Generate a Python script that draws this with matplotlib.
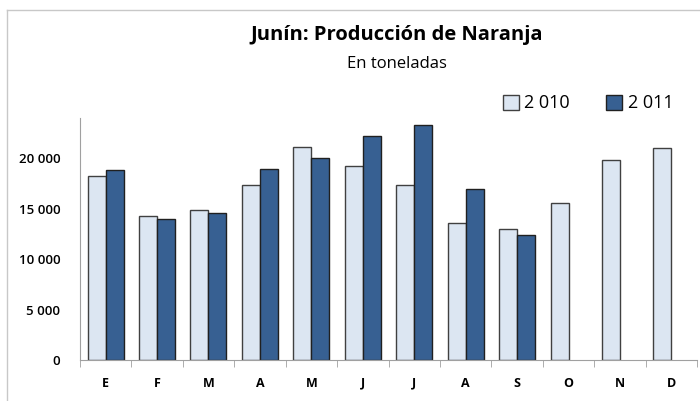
import numpy as np
import matplotlib.pyplot as plt
from matplotlib.ticker import FuncFormatter
from matplotlib.lines import Line2D

plt.rcParams['font.family'] = ['Open Sans', 'DejaVu Sans']

meses = ['E', 'F', 'M', 'A', 'M', 'J', 'J', 'A', 'S', 'O', 'N', 'D']
prod_2010 = [18200, 14300, 14900, 17400, 21100, 19200, 17400, 13600, 13000, 15600, 19800, 21000]
prod_2011 = [18800, 14000, 14600, 18900, 20000, 22200, 23300, 17000, 12400]

fig = plt.figure(figsize=(7, 4.01), dpi=100)
ax = fig.add_axes([0.114, 0.102, 0.882, 0.604])

x = np.arange(len(meses))
w = 0.35
ax.bar(x - w / 2, prod_2010, w, color='#dce6f2', edgecolor='#404040', linewidth=1, label='2 010')
ax.bar(x[:len(prod_2011)] + w / 2, prod_2011, w, color='#376092', edgecolor='#202020', linewidth=1, label='2 011')

ax.set_xlim(-0.5, len(meses) - 0.5)
ax.set_ylim(0, 24000)
ax.set_yticks(np.arange(0, 20001, 5000))
ax.yaxis.set_major_formatter(FuncFormatter(lambda v, p: f'{int(v):,}'.replace(',', ' ')))
ax.set_xticks(x)
ax.set_xticklabels(meses, fontweight='bold', fontsize=9)
ax.set_xticks(np.arange(-0.5, len(meses), 1), minor=True)
ax.tick_params(axis='x', which='major', length=0, pad=12)
ax.tick_params(axis='x', which='minor', length=5, color='#a0a0a0', direction='out')
ax.tick_params(axis='y', length=0, labelsize=9.5, pad=14)
for t in ax.get_yticklabels():
    t.set_fontweight('semibold')

for s in ['top', 'right']:
    ax.spines[s].set_visible(False)
ax.spines['left'].set_color('#a0a0a0')
ax.spines['bottom'].set_color('#a0a0a0')

fig.text(0.567, 0.9, 'Junín: Producción de Naranja', ha='center', fontsize=14.5, fontweight='bold')
fig.text(0.567, 0.83, 'En toneladas', ha='center', fontsize=12)

fig.legend(loc='center', bbox_to_anchor=(0.84, 0.742), ncol=2, frameon=False,
           fontsize=13, handlelength=0.9, handleheight=0.9, columnspacing=2.0, handletextpad=0.3)

# borde del gráfico
fig.add_artist(Line2D([0.01, 1.0], [0.975, 0.975], color='#c8c8c8', lw=1))
fig.add_artist(Line2D([0.01, 0.01], [0.0, 0.975], color='#c8c8c8', lw=1))

plt.savefig('out.png', dpi=100)
